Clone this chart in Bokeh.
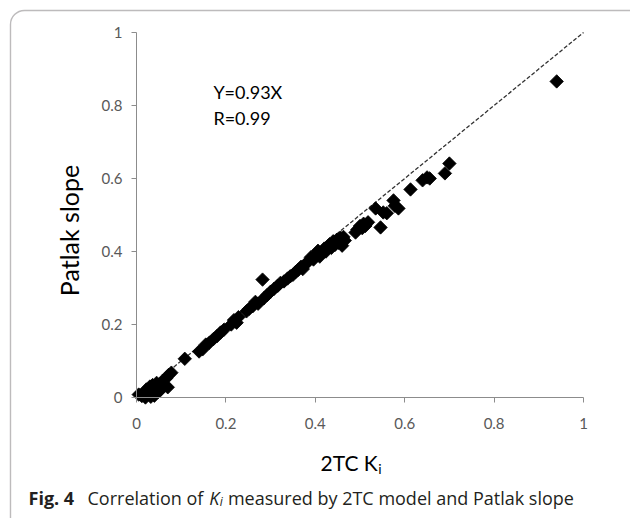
import math
from bokeh.plotting import figure
from bokeh.models import Range1d, FixedTicker, Label, BoxAnnotation
from bokeh.embed import file_html
from bokeh.resources import INLINE

# 2TC Ki (x) vs Patlak slope (y)
x_2tc = [0.005, 0.012, 0.018, 0.022, 0.027, 0.030, 0.034, 0.036, 0.040, 0.042,
         0.045, 0.048, 0.050, 0.055, 0.058, 0.062, 0.066, 0.070, 0.072, 0.078,
         0.020, 0.032,
         0.108, 0.140, 0.148, 0.155, 0.163, 0.172, 0.180, 0.188, 0.196, 0.212,
         0.218, 0.224, 0.228, 0.246, 0.252, 0.260, 0.266, 0.272,
         0.282, 0.285, 0.292, 0.300, 0.308, 0.316, 0.322, 0.330, 0.338, 0.344,
         0.350, 0.356, 0.362, 0.368, 0.372, 0.378, 0.384, 0.390, 0.396,
         0.402, 0.406, 0.410, 0.415, 0.420, 0.424, 0.428, 0.432, 0.436, 0.440,
         0.444, 0.448, 0.452, 0.456, 0.460, 0.463, 0.466,
         0.490, 0.494, 0.500, 0.505, 0.508, 0.512, 0.518, 0.535, 0.546, 0.552,
         0.560, 0.575, 0.586, 0.578,
         0.613, 0.640, 0.650, 0.656, 0.690, 0.700, 0.940]
y_patlak = [0.008, 0.004, 0.012, 0.022, 0.010, 0.030, 0.018, 0.034, 0.005, 0.025,
            0.040, 0.015, 0.030, 0.022, 0.045, 0.035, 0.052, 0.028, 0.062, 0.068,
            0.000, 0.002,
            0.106, 0.126, 0.132, 0.145, 0.150, 0.160, 0.168, 0.178, 0.186, 0.200,
            0.212, 0.205, 0.220, 0.236, 0.243, 0.250, 0.262, 0.257,
            0.323, 0.272, 0.280, 0.290, 0.298, 0.306, 0.314, 0.318, 0.326, 0.332,
            0.336, 0.344, 0.350, 0.358, 0.352, 0.366, 0.372, 0.384, 0.378,
            0.392, 0.402, 0.386, 0.396, 0.408, 0.400, 0.414, 0.420, 0.410, 0.428,
            0.418, 0.432, 0.424, 0.438, 0.416, 0.440, 0.430,
            0.452, 0.460, 0.470, 0.464, 0.476, 0.470, 0.480, 0.518, 0.466, 0.507,
            0.505, 0.540, 0.518, 0.525,
            0.570, 0.595, 0.603, 0.600, 0.614, 0.641, 0.866]

identity_x = [0, 1]
identity_y = [0, 1]

tick_values = [0, 0.2, 0.4, 0.6, 0.8, 1]
tick_labels = ["0", "0.2", "0.4", "0.6", "0.8", "1"]

x_title = "2TC K"
x_title_sub = "i"
y_title = "Patlak slope"
fit_lines = ["Y=0.93X", "R=0.99"]
caption_bold = "Fig. 4"
caption_1 = "Correlation of"
caption_k = "K"
caption_i = "i"
caption_2 = "measured by 2TC model and Patlak slope"

# the frame covers the whole canvas; axes are pinned at 0 and bounded to [0, 1]
p = figure(width=630, height=518, output_backend="svg", toolbar_location=None,
           x_range=Range1d(-0.30425, 1.10515), y_range=Range1d(-0.33151, 1.08767),
           min_border=0)
p.outline_line_color = None
p.grid.visible = False
p.background_fill_color = "white"
p.border_fill_color = "white"

for ax in (p.xaxis[0], p.yaxis[0]):
    ax.fixed_location = 0
    ax.bounds = (0, 1)
    ax.ticker = FixedTicker(ticks=tick_values)
    ax.major_label_overrides = dict(zip(tick_values, tick_labels))
    ax.axis_line_color = "#8c8c8c"
    ax.major_tick_line_color = "#8c8c8c"
    ax.minor_tick_line_color = None
    ax.major_tick_in = 0
    ax.major_tick_out = 5
    ax.major_label_text_font = "Lato"
    ax.major_label_text_font_size = "15px"
    ax.major_label_text_color = "#595959"
p.xaxis.major_label_standoff = 16
p.yaxis.major_label_standoff = 9

p.line(identity_x, identity_y, line_dash="4 2", line_color="#333333", line_width=1.3)
p.scatter(x_2tc, y_patlak, marker="square", size=9.5, angle=math.pi / 4,
          fill_color="black", line_color="black", line_width=0.8)

p.add_layout(Label(x=0.172, y=0.838, text=fit_lines[0], text_font="Lato",
                   text_font_size="18px", text_color="black",
                   text_align="left", text_baseline="middle"))
p.add_layout(Label(x=0.172, y=0.767, text=fit_lines[1], text_font="Lato",
                   text_font_size="18px", text_color="black",
                   text_align="left", text_baseline="middle"))

p.add_layout(Label(x=-0.150, y=0.4575, text=y_title, angle=math.pi / 2,
                   text_font="Lato", text_font_size="25px", text_color="black",
                   text_align="center", text_baseline="middle"))
p.add_layout(Label(x=0.4116, y=-0.178, text=x_title, text_font="Lato",
                   text_font_size="21px", text_color="black",
                   text_align="left", text_baseline="middle"))
p.add_layout(Label(x=0.541, y=-0.1945, text=x_title_sub, text_font="Lato",
                   text_font_size="14px", text_color="black",
                   text_align="left", text_baseline="middle"))

cap_y = -0.274
cap_font = "Open Sans"
cap_color = "#231f20"
cap_size = "18px"
p.add_layout(Label(x=-0.2416, y=cap_y, text=caption_bold, text_font=cap_font,
                   text_font_style="bold", text_font_size=cap_size,
                   text_color=cap_color, text_align="left", text_baseline="alphabetic"))
p.add_layout(Label(x=-0.1096, y=cap_y, text=caption_1, text_font=cap_font,
                   text_font_size=cap_size, text_color=cap_color,
                   text_align="left", text_baseline="alphabetic"))
p.add_layout(Label(x=0.1625, y=cap_y, text=caption_k, text_font=cap_font,
                   text_font_style="italic", text_font_size=cap_size, text_color=cap_color,
                   text_align="left", text_baseline="alphabetic"))
p.add_layout(Label(x=0.1860, y=cap_y - 0.010, text=caption_i, text_font=cap_font,
                   text_font_style="italic", text_font_size="12px", text_color=cap_color,
                   text_align="left", text_baseline="alphabetic"))
p.add_layout(Label(x=0.2045, y=cap_y, text=caption_2, text_font=cap_font,
                   text_font_size=cap_size, text_color=cap_color,
                   text_align="left", text_baseline="alphabetic"))

# rounded frame around the figure (extends past the right and bottom edges)
p.add_layout(BoxAnnotation(left=-0.2819, right=1.2, top=1.0603, bottom=-0.45,
                           fill_alpha=0, line_color="#231f20", line_width=1.4,
                           border_radius=14))

open("out.html", "w").write(file_html(p, INLINE))
